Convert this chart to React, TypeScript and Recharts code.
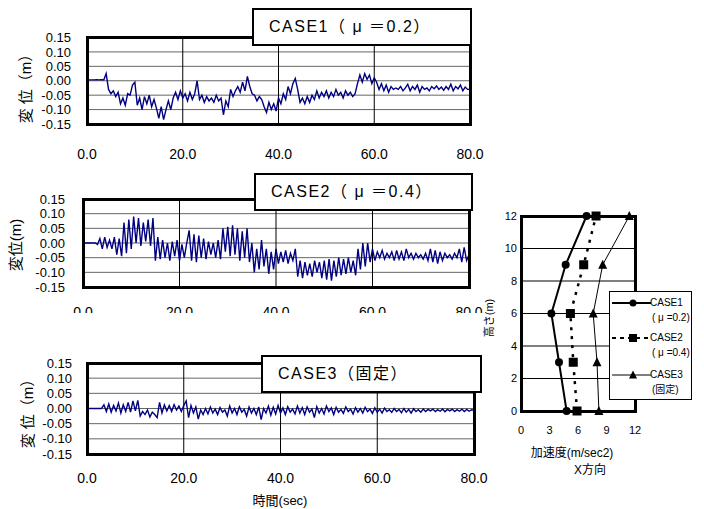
import React from "react";
import {
  LineChart,
  Line,
  XAxis,
  YAxis,
  CartesianGrid,
  ScatterChart,
  Scatter,
} from "recharts";

// 変位の時刻歴（0.5秒ごとに読み取り）
const TIME_STEP = 0.5;

const CASE1_DISP = [
  0.003, 0.003, 0.003, 0.003, 0.004, 0.003, 0.004, 0.003, 0.025, -0.03,
  -0.045, -0.035, -0.055, -0.04, -0.08, -0.06, -0.085, -0.045, -0.05, -0.015,
  -0.005, -0.085, -0.06, -0.1, -0.055, -0.08, -0.05, -0.09, -0.065, -0.095,
  -0.13, -0.09, -0.135, -0.1, -0.07, -0.1, -0.06, -0.04, -0.065, -0.035,
  -0.06, -0.045, -0.07, -0.04, -0.065, -0.045, 0.0, -0.065, -0.05, -0.075,
  -0.055, -0.07, -0.06, -0.075, -0.05, -0.07, -0.06, -0.118, -0.07, -0.09,
  -0.03, -0.055, -0.035, -0.02, -0.04, -0.005, -0.035, 0.015, -0.02, -0.045,
  -0.05, -0.07, -0.055, -0.065, -0.09, -0.11, -0.075, -0.1, -0.08, -0.105,
  -0.06, -0.08, -0.045, -0.065, -0.02, -0.045, -0.01, 0.008, -0.03, -0.075,
  -0.06, -0.08, -0.055, -0.075, -0.05, -0.065, -0.035, -0.06, -0.04, -0.055,
  -0.035, -0.06, -0.04, -0.055, -0.03, -0.05, -0.04, -0.06, -0.035, -0.05,
  -0.04, -0.055, -0.045, -0.01, 0.02, -0.005, 0.025, 0.005, 0.02, -0.01,
  0.01, -0.005, -0.03, -0.01, -0.035, -0.015, -0.04, -0.02, -0.03, -0.025,
  -0.03, -0.02, -0.035, -0.025, -0.012, -0.035, -0.02, -0.03, -0.015, -0.04,
  -0.02, -0.03, -0.025, -0.035, -0.02, -0.028, -0.018, -0.03, -0.022, -0.033,
  -0.02, -0.03, -0.012, -0.035, -0.02, -0.028, -0.015, -0.035, -0.022, -0.03,
  -0.03,
];

const CASE2_DISP = [
  0, 0, 0, 0, 0, 0, -0.005, 0.015, -0.02, 0.02,
  -0.015, 0.01, -0.02, 0.02, -0.04, 0.015, -0.045, 0.07, -0.035, 0.08,
  -0.02, 0.09, 0.0, 0.085, -0.01, 0.07, 0.005, 0.08, -0.01, 0.085,
  -0.06, 0.02, -0.055, 0.01, -0.05, 0.0, -0.06, 0.005, -0.045, 0.01,
  -0.06, -0.005, -0.05, 0.0, 0.043, -0.06, 0.03, -0.065, 0.025, -0.05,
  0.015, -0.055, 0.005, -0.04, 0.0, -0.05, 0.01, -0.055, 0.05, -0.03,
  0.055, -0.045, 0.06, -0.04, 0.05, -0.06, 0.04, -0.05, 0.05, -0.065,
  0.0, -0.1, -0.02, -0.09, 0.01, -0.08, -0.02, -0.105, -0.03, -0.09,
  -0.02, -0.07, -0.03, -0.065, -0.025, -0.07, -0.035, -0.06, -0.02, -0.115,
  -0.06, -0.12, -0.065, -0.11, -0.07, -0.115, -0.06, -0.1, -0.065, -0.12,
  -0.06, -0.125, -0.055, -0.128, -0.06, -0.115, -0.05, -0.11, -0.055, -0.105,
  -0.05, -0.1, -0.06, -0.11, -0.02, -0.09, 0.0, -0.08, 0.0, -0.065,
  -0.02, -0.06, -0.03, -0.05, -0.025, -0.055, -0.035, -0.05, -0.03, -0.06,
  -0.025, -0.055, -0.03, -0.06, -0.02, -0.05, -0.035, -0.055, -0.035, -0.05,
  -0.04, -0.055, -0.035, -0.06, -0.02, -0.065, -0.025, -0.07, -0.03, -0.06,
  -0.035, -0.05, -0.04, -0.055, -0.035, -0.05, -0.02, -0.065, -0.015, -0.06,
  -0.04,
];

const CASE3_DISP = [
  0, 0, 0, 0, 0, 0, 0, 0.012, -0.01, 0.015,
  -0.012, 0.01, -0.008, 0.018, -0.015, 0.012, -0.01, 0.02, -0.012, 0.025,
  -0.008, 0.027, -0.025, -0.01, -0.02, -0.005, -0.028, -0.012, -0.02, -0.03,
  0.02, -0.015, 0.012, -0.008, 0.01, -0.01, 0.013, -0.005, 0.008, -0.01,
  0.01, 0.025, -0.03, 0.01, -0.015, 0.005, -0.035, -0.005, -0.02, 0.0,
  -0.018, 0.005, -0.015, -0.002, -0.02, 0.003, -0.012, -0.005, -0.025, 0.008,
  -0.015, 0.0, -0.02, 0.006, -0.012, -0.003, -0.025, 0.005, -0.015, 0.0,
  -0.02, 0.005, -0.037, 0.0, -0.015, 0.008, -0.022, 0.004, -0.018, 0.01,
  -0.015, 0.002, -0.02, 0.006, -0.012, -0.002, -0.018, 0.008, -0.015, 0.003,
  -0.02, 0.005, -0.012, -0.002, -0.03, 0.006, -0.015, 0.0, -0.018, 0.008,
  -0.01, 0.002, -0.02, 0.004, -0.012, -0.003, -0.016, 0.005, -0.01, -0.002,
  -0.018, 0.003, -0.012, 0.0, -0.015, 0.004, -0.01, -0.002, -0.016, 0.002,
  -0.012, -0.002, -0.015, 0.001, -0.01, -0.004, -0.013, 0.0, -0.01, -0.003,
  -0.014, 0.0, -0.012, -0.003, -0.015, -0.001, -0.01, -0.004, -0.012, -0.002,
  -0.01, -0.003, -0.008, -0.002, -0.01, -0.004, -0.009, -0.002, -0.011, -0.003,
  -0.008, -0.002, -0.01, -0.004, -0.009, -0.002, -0.01, -0.003, -0.009, -0.004,
  -0.006,
];

const TIME_TICKS = [0, 20, 40, 60, 80];
const DISP_TICKS = [-0.15, -0.1, -0.05, 0, 0.05, 0.1, 0.15];

// 最大応答加速度分布
const HEIGHTS = [0, 3, 6, 9, 12];
const ACC_CASE1 = [4.8, 4.0, 3.2, 4.7, 6.9];
const ACC_CASE2 = [5.9, 5.5, 5.2, 6.6, 7.9];
const ACC_CASE3 = [8.2, 8.0, 7.6, 8.6, 11.4];
const ACC_TICKS = [0, 3, 6, 9, 12];
const HEIGHT_TICKS = [0, 2, 4, 6, 8, 10, 12];

const LATIN = '"Liberation Sans", Arial, "Noto Sans CJK JP", sans-serif';
const NAVY = "#000080";

type PanelProps = {
  top: number;
  height: number;
  values: number[];
  left: number;
  right: number;
  plotTop: number;
  plotBottom: number;
  yGap: number;
  xGap: number;
};

function TimePanel({ top, height, values, left, right, plotTop, plotBottom, yGap, xGap }: PanelProps) {
  const data = values.map((d, i) => ({ t: i * TIME_STEP, d }));
  const width = 490;
  return (
    <>
      <div style={{ position: "absolute", left: 0, top, width, height, overflow: "hidden" }}>
        <LineChart
          width={width}
          height={height}
          data={data}
          margin={{ top: plotTop, right: width - right, bottom: 0, left: 0 }}
        >
          <CartesianGrid vertical={false} stroke="#666" />
          <CartesianGrid horizontal={false} stroke="#000" />
          <XAxis
            dataKey="t"
            type="number"
            domain={[0, 80]}
            ticks={TIME_TICKS}
            tickFormatter={(v) => Number(v).toFixed(1)}
            height={height - plotBottom}
            axisLine={false}
            tickLine={false}
            tickSize={0}
            tickMargin={xGap}
            tick={{ fill: "#000", fontSize: 14, fontFamily: LATIN }}
            interval={0}
          />
          <YAxis
            type="number"
            domain={[-0.15, 0.15]}
            ticks={DISP_TICKS}
            tickFormatter={(v) => Number(v).toFixed(2)}
            width={left}
            axisLine={false}
            tickLine={false}
            tickSize={0}
            tickMargin={yGap}
            tick={{ fill: "#000", fontSize: 13, fontFamily: LATIN }}
            interval={0}
          />
          <Line
            type="linear"
            dataKey="d"
            stroke={NAVY}
            strokeWidth={1.4}
            dot={false}
            isAnimationActive={false}
          />
        </LineChart>
      </div>
      <div
        style={{
          position: "absolute",
          left: left - 1.5,
          top: top + plotTop - 1.5,
          width: right - left + 3,
          height: plotBottom - plotTop + 3,
          border: "3px solid #000",
          boxSizing: "border-box",
        }}
      />
    </>
  );
}

function TitleBox({ x, y, w, h, text }: { x: number; y: number; w: number; h: number; text: string }) {
  return (
    <div
      style={{
        position: "absolute",
        left: x,
        top: y,
        width: w,
        height: h,
        border: "2px solid #000",
        boxSizing: "border-box",
        background: "#fff",
        fontFamily: LATIN,
        fontSize: 16,
        lineHeight: `${h - 4}px`,
        paddingLeft: 15,
        whiteSpace: "nowrap",
        letterSpacing: 1.5,
      }}
    >
      {text}
    </div>
  );
}

function VText({ cx, cy, size, text }: { cx: number; cy: number; size: number; text: string }) {
  return (
    <div
      style={{
        position: "absolute",
        left: cx,
        top: cy,
        transform: "translate(-50%, -50%) rotate(-90deg)",
        fontFamily: LATIN,
        fontSize: size,
        whiteSpace: "nowrap",
        lineHeight: 1,
      }}
    >
      {text}
    </div>
  );
}

function HText({ cx, cy, size, text }: { cx: number; cy: number; size: number; text: string }) {
  return (
    <div
      style={{
        position: "absolute",
        left: cx,
        top: cy,
        transform: "translate(-50%, -50%)",
        fontFamily: LATIN,
        fontSize: size,
        whiteSpace: "nowrap",
        lineHeight: 1,
      }}
    >
      {text}
    </div>
  );
}

const circleShape = (p: any) => <circle cx={p.cx} cy={p.cy} r={4} fill="#000" />;
const squareShape = (p: any) => <rect x={p.cx - 4.5} y={p.cy - 4.5} width={9} height={9} fill="#000" />;
const triangleShape = (p: any) => (
  <path d={`M${p.cx},${p.cy - 5}L${p.cx + 4.5},${p.cy + 4}L${p.cx - 4.5},${p.cy + 4}Z`} fill="#000" />
);

function LegendItem({ y, kind, label, sub }: { y: number; kind: number; label: string; sub: string }) {
  const marker =
    kind === 0 ? (
      <circle cx={21} cy={6} r={3.5} fill="#000" />
    ) : kind === 1 ? (
      <rect x={17} y={2} width={8} height={8} fill="#000" />
    ) : (
      <path d="M21,1.5L25,9.5L17,9.5Z" fill="#000" />
    );
  const textStyle: React.CSSProperties = {
    position: "absolute",
    fontSize: 10,
    fontFamily: LATIN,
    lineHeight: "12px",
    whiteSpace: "nowrap",
  };
  return (
    <>
      <svg style={{ position: "absolute", left: 2, top: y - 6 }} width={40} height={12}>
        <line
          x1={0}
          y1={6}
          x2={39}
          y2={6}
          stroke="#000"
          strokeWidth={kind === 2 ? 1 : 2}
          strokeDasharray={kind === 1 ? "4 4" : undefined}
        />
        {marker}
      </svg>
      <div style={{ ...textStyle, left: 40, top: y - 6 }}>{label}</div>
      <div style={{ ...textStyle, left: 42, top: y + 9 }}>{sub}</div>
    </>
  );
}

export default function App() {
  const p1 = HEIGHTS.map((h, i) => ({ acc: ACC_CASE1[i], h }));
  const p2 = HEIGHTS.map((h, i) => ({ acc: ACC_CASE2[i], h }));
  const p3 = HEIGHTS.map((h, i) => ({ acc: ACC_CASE3[i], h }));

  return (
    <div
      style={{
        position: "absolute",
        left: 0,
        top: 0,
        width: 704,
        height: 509,
        background: "#fff",
        overflow: "hidden",
      }}
    >
      <TimePanel top={0} height={170} values={CASE1_DISP} left={87} right={470} plotTop={37.5} plotBottom={124} yGap={16} xGap={25} />
      <TitleBox x={252} y={8} w={220} h={38} text="CASE1（ μ ＝0.2）" />
      <VText cx={25} cy={85} size={15} text="変 位（m）" />

      <TimePanel top={160} height={153} values={CASE2_DISP} left={83} right={469} plotTop={39} plotBottom={127} yGap={18} xGap={20} />
      <TitleBox x={254} y={173} w={219} h={38} text="CASE2（ μ ＝0.4）" />
      <VText cx={15} cy={245} size={15} text="変位(m)" />

      <TimePanel top={340} height={169} values={CASE3_DISP} left={87} right={474} plotTop={23} plotBottom={114} yGap={15} xGap={19} />
      <TitleBox x={261} y={355} w={221} h={38} text="CASE3（固定）" />
      <VText cx={27} cy={410} size={15} text="変 位（m）" />
      <HText cx={280} cy={500} size={13} text="時間(sec)" />

      {/* 加速度分布 */}
      <div style={{ position: "absolute", left: 480, top: 190 }}>
        <ScatterChart width={224} height={290} margin={{ top: 26, right: 69, bottom: 0, left: 0 }}>
          <CartesianGrid vertical={false} stroke="#000" />
          <XAxis
            dataKey="acc"
            type="number"
            domain={[0, 12]}
            ticks={ACC_TICKS}
            height={69}
            axisLine={false}
            tickLine={false}
            tickSize={0}
            tickMargin={15}
            interval={0}
            tick={{ fill: "#000", fontSize: 11, fontFamily: LATIN }}
          />
          <YAxis
            dataKey="h"
            type="number"
            domain={[0, 12]}
            ticks={HEIGHT_TICKS}
            width={41}
            axisLine={false}
            tickLine={false}
            tickSize={0}
            tickMargin={4}
            interval={0}
            tick={{ fill: "#000", fontSize: 11, fontFamily: LATIN }}
          />
          <Scatter data={p3} shape={triangleShape} line={{ stroke: "#000", strokeWidth: 1 }} isAnimationActive={false} />
          <Scatter data={p2} shape={squareShape} line={{ stroke: "#000", strokeWidth: 2.5, strokeDasharray: "3 6" }} isAnimationActive={false} />
          <Scatter data={p1} shape={circleShape} line={{ stroke: "#000", strokeWidth: 2 }} isAnimationActive={false} />
        </ScatterChart>
      </div>
      <div
        style={{
          position: "absolute",
          left: 519.5,
          top: 214.5,
          width: 117,
          height: 198,
          border: "3px solid #000",
          boxSizing: "border-box",
        }}
      />
      <VText cx={489} cy={318} size={11} text="高さ(m)" />
      <HText cx={572} cy={453} size={12} text="加速度(m/sec2)" />
      <HText cx={590} cy={470} size={12} text="X方向" />

      <div
        style={{
          position: "absolute",
          left: 609,
          top: 291,
          width: 83,
          height: 109,
          border: "1.5px solid #000",
          boxSizing: "border-box",
          background: "#fff",
        }}
      >
        <LegendItem y={11} kind={0} label="CASE1" sub="( μ =0.2)" />
        <LegendItem y={46} kind={1} label="CASE2" sub="( μ =0.4)" />
        <LegendItem y={83} kind={2} label="CASE3" sub="(固定)" />
      </div>
    </div>
  );
}
